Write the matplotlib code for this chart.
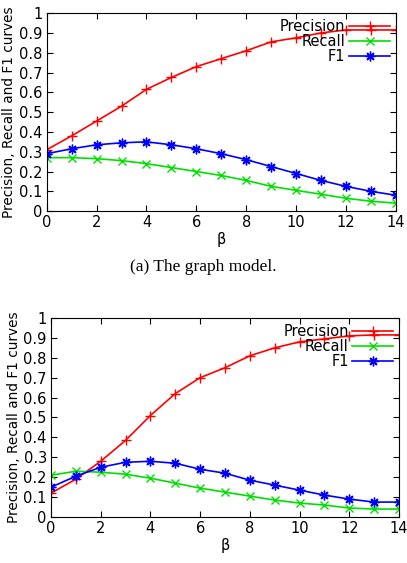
import matplotlib
matplotlib.use("Agg")
import matplotlib.pyplot as plt

beta = list(range(15))

# (a) graph model
prec_a = [0.31, 0.38, 0.455, 0.53, 0.615, 0.675, 0.73, 0.77, 0.81, 0.855, 0.875, 0.90, 0.915, 0.915, 0.915]
rec_a = [0.27, 0.27, 0.265, 0.255, 0.24, 0.22, 0.20, 0.18, 0.155, 0.125, 0.105, 0.085, 0.065, 0.05, 0.04]
f1_a = [0.29, 0.315, 0.335, 0.345, 0.35, 0.335, 0.315, 0.29, 0.26, 0.225, 0.19, 0.155, 0.125, 0.10, 0.08]

# (b) second model
prec_b = [0.12, 0.19, 0.28, 0.385, 0.51, 0.62, 0.70, 0.75, 0.81, 0.85, 0.88, 0.895, 0.91, 0.915, 0.915]
rec_b = [0.21, 0.23, 0.225, 0.215, 0.195, 0.17, 0.145, 0.125, 0.105, 0.085, 0.07, 0.06, 0.045, 0.04, 0.04]
f1_b = [0.15, 0.205, 0.25, 0.275, 0.28, 0.27, 0.24, 0.22, 0.185, 0.16, 0.135, 0.11, 0.09, 0.075, 0.075]

xticks = [0, 2, 4, 6, 8, 10, 12, 14]
yticks = [0, 0.1, 0.2, 0.3, 0.4, 0.5, 0.6, 0.7, 0.8, 0.9, 1]
ytick_labels = ["0", "0.1", "0.2", "0.3", "0.4", "0.5", "0.6", "0.7", "0.8", "0.9", "1"]

plt.rcParams['font.family'] = ['DejaVu Sans']
plt.rcParams['font.size'] = 10.5

fig = plt.figure(figsize=(4.07, 5.63), dpi=100)


def draw(ax, prec, rec, f1):
    ax.plot(beta, prec, color="#ff0000", marker="+", markersize=7, mew=1.0, lw=1.2, label="Precision")
    ax.plot(beta, rec, color="#00e000", marker="x", markersize=5.5, mew=1.0, lw=1.2, label="Recall")
    ax.plot(beta, f1, color="#0000ff", marker=(8, 2, 0), markersize=7, mew=1.0, lw=1.2, label="F1")
    ax.set_xlim(0, 14)
    ax.set_ylim(0, 1)
    ax.set_xticks(xticks)
    ax.set_yticks(yticks)
    ax.set_yticklabels(ytick_labels)
    ax.tick_params(direction="in", top=True, right=True, length=4, pad=3)
    ax.set_xlabel("β", labelpad=1)
    ax.set_ylabel("Precision, Recall and F1 curves", labelpad=2, fontsize=9.8)
    leg = ax.legend(loc="upper right", bbox_to_anchor=(1.0, 1.0), borderaxespad=0,
                    frameon=False, markerfirst=False, handlelength=2.8,
                    handletextpad=0.25, labelspacing=0.0)
    for t in leg.get_texts():
        t.set_ha("right")


ax1 = fig.add_axes([0.1147, 0.625, 0.858, 0.3517])
draw(ax1, prec_a, rec_a, f1_a)

fig.text(0.5, 1 - 267 / 563, "(a) The graph model.", ha="center", va="center",
         family="Liberation Serif", fontsize=12.5)

ax2 = fig.add_axes([0.1253, 0.0817, 0.855, 0.3535])
draw(ax2, prec_b, rec_b, f1_b)

fig.savefig("out.png", dpi=100)
